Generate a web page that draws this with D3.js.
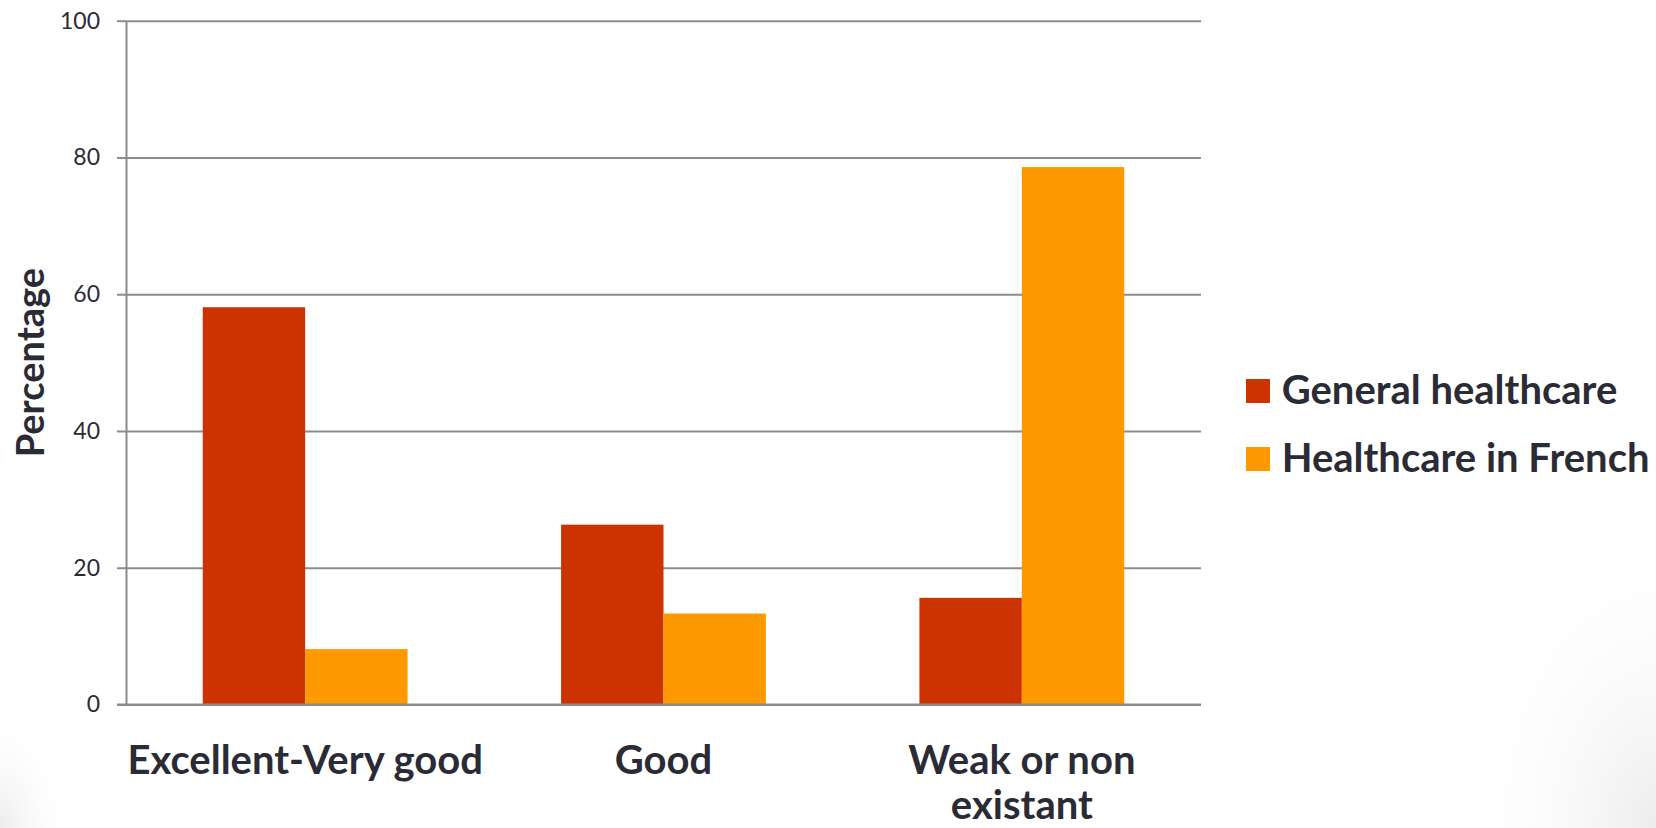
<!DOCTYPE html>
<html>
<head>
<meta charset="utf-8">
<script src="https://cdn.jsdelivr.net/npm/d3@7"></script>
<style>
  html, body { margin: 0; padding: 0; background: #fff; }
  svg { display: block; }
</style>
</head>
<body>
<svg id="chart" width="1656" height="828"></svg>
<script>
const categories = ["Excellent-Very good", "Good", "Weak or non existant"];
const seriesNames = ["General healthcare", "Healthcare in French"];
const generalHealthcare = [58.1, 26.3, 15.6];
const healthcareInFrench = [8.1, 13.3, 78.6];
const yTicks = [0, 20, 40, 60, 80, 100];
const colors = ["#CC3300", "#FF9900"];

const svg = d3.select("#chart");
const W = 1656, H = 828;
const margin = { left: 126, right: 455, top: 20.7, bottom: 123.5 };
const pw = W - margin.left - margin.right;
const ph = H - margin.top - margin.bottom;
const textColor = "#2b2b36";
const font = "Lato, 'Open Sans', sans-serif";

// background shading
const defs = svg.append("defs");
const g1 = defs.append("radialGradient").attr("id", "shadeR")
  .attr("cx", 1).attr("cy", 1).attr("r", 0.55);
g1.append("stop").attr("offset", 0).attr("stop-color", "#ececec");
g1.append("stop").attr("offset", 1).attr("stop-color", "#ffffff").attr("stop-opacity", 0);
const g2 = defs.append("radialGradient").attr("id", "shadeL")
  .attr("cx", 0).attr("cy", 1).attr("r", 0.6);
g2.append("stop").attr("offset", 0).attr("stop-color", "#ececec");
g2.append("stop").attr("offset", 1).attr("stop-color", "#ffffff").attr("stop-opacity", 0);
svg.append("rect").attr("width", W).attr("height", H).attr("fill", "#fff");
svg.append("rect").attr("x", W - 360).attr("y", H - 560).attr("width", 360).attr("height", 560).attr("fill", "url(#shadeR)");
svg.append("rect").attr("x", 0).attr("y", H - 200).attr("width", 120).attr("height", 200).attr("fill", "url(#shadeL)");

const g = svg.append("g").attr("transform", `translate(${margin.left},${margin.top})`);

const y = d3.scaleLinear().domain([0, 100]).range([ph, 0]);
const x0 = d3.scaleBand().domain(categories).range([0, pw]).paddingInner(0.4284).paddingOuter(0.2142);
const x1 = d3.scaleBand().domain(seriesNames).range([0, x0.bandwidth()]).padding(0);

// gridlines
const grid = g.append("g").call(d3.axisLeft(y).tickValues(yTicks).tickSize(-pw).tickFormat(""));
grid.select(".domain").remove();
grid.selectAll("line").attr("stroke", "#8c8c8c").attr("stroke-width", 2);

// y axis with ticks and labels
const yAxis = g.append("g").call(d3.axisLeft(y).tickValues(yTicks).tickSize(9).tickPadding(17).tickSizeOuter(0));
yAxis.select(".domain").attr("stroke", "#8c8c8c").attr("stroke-width", 2);
yAxis.selectAll("line").attr("stroke", "#8c8c8c").attr("stroke-width", 2);
yAxis.selectAll("text").attr("fill", textColor).style("font-family", font).style("font-size", "23px");

// bars
const rows = categories.map((c, i) => ({ cat: c, vals: [generalHealthcare[i], healthcareInFrench[i]] }));
const groups = g.append("g").selectAll("g").data(rows).join("g")
  .attr("transform", d => `translate(${x0(d.cat)},0)`);
groups.selectAll("rect").data(d => d.vals.map((v, j) => ({ key: seriesNames[j], v, j })))
  .join("rect")
  .attr("x", d => x1(d.key))
  .attr("width", x1.bandwidth())
  .attr("y", d => y(d.v))
  .attr("height", d => ph - y(d.v))
  .attr("fill", d => colors[d.j]);

// zero line on top
g.append("line").attr("x1", -9).attr("x2", pw).attr("y1", y(0)).attr("y2", y(0))
  .attr("stroke", "#8c8c8c").attr("stroke-width", 2);

// x category labels
const xAxis = g.append("g").attr("transform", `translate(0,${ph})`)
  .call(d3.axisBottom(x0).tickSize(0).tickPadding(0));
xAxis.select(".domain").remove();
xAxis.selectAll("text").remove();
const catLines = { "Excellent-Very good": ["Excellent-Very good"], "Good": ["Good"], "Weak or non existant": ["Weak or non", "existant"] };
xAxis.selectAll(".tick").append("text")
  .attr("fill", textColor)
  .attr("text-anchor", "middle")
  .style("font-family", font).style("font-weight", "bold").style("font-size", "40px")
  .selectAll("tspan").data(d => catLines[d]).join("tspan")
  .attr("x", 0).attr("y", (d, i) => 69 + i * 45.5)
  .text(d => d);

// y axis title
g.append("text")
  .attr("transform", `translate(${44 - margin.left},${ph / 2}) rotate(-90)`)
  .attr("text-anchor", "middle")
  .attr("fill", textColor)
  .style("font-family", font).style("font-weight", "bold").style("font-size", "38px")
  .text("Percentage");

// legend
const legend = svg.append("g").attr("transform", "translate(1246,379)");
const li = legend.selectAll("g").data(seriesNames).join("g")
  .attr("transform", (d, i) => `translate(0,${i * 68})`);
li.append("rect").attr("width", 24).attr("height", 24).attr("fill", (d, i) => colors[i]);
li.append("text").attr("x", 35.7).attr("y", 24.5)
  .attr("fill", textColor)
  .style("font-family", font).style("font-weight", "bold").style("font-size", "40px")
  .text(d => d);
</script>
</body>
</html>
